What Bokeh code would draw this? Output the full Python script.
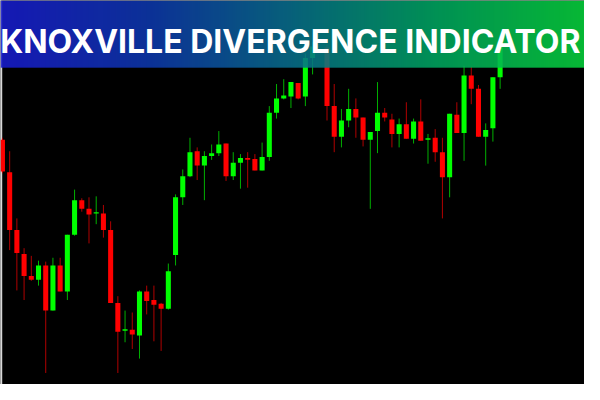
import numpy as np
from bokeh.plotting import figure
from bokeh.models import Range1d, ColumnDataSource, Label
from bokeh.embed import file_html
from bokeh.resources import INLINE

# ---- data (bar slot index, OHLC in chart points) ----
slots = list(range(0, 44)) + list(range(45, 70))
opens = [255, 221, 161, 136, 113, 109, 124, 77, 124, 97,
         156, 192, 183, 178, 178, 161, 85, 56, 57, 51,
         97, 88, 84, 79, 135, 195, 217, 243, 228, 238,
         241, 251, 217, 231, 236, 235, 223, 237, 283, 298,
         300, 314, 300, 340,
         351, 290, 258, 275, 287, 278, 255, 264, 283, 276,
         261, 271, 256, 274, 255, 257, 242, 216, 281, 262,
         322, 308, 258, 267, 320]
highs = [257, 243, 173, 142, 134, 129, 128, 132, 132, 156,
         203, 194, 195, 196, 187, 170, 92, 77, 75, 98,
         103, 103, 85, 126, 198, 224, 257, 247, 243, 250,
         264, 251, 242, 240, 242, 240, 252, 290, 313, 318,
         315, 314, 345, 357,
         354, 313, 287, 308, 298, 278, 263, 315, 288, 282,
         277, 294, 277, 297, 261, 266, 257, 282, 294, 332,
         331, 312, 272, 320, 360]
lows = [220, 140, 98, 88, 108, 103, 12, 77, 97, 88,
        155, 180, 147, 167, 153, 85, 12, 44, 37, 27,
        73, 45, 35, 78, 124, 187, 216, 213, 192, 234,
        238, 212, 213, 204, 205, 223, 223, 233, 277, 297,
        288, 297, 290, 323,
        275, 242, 247, 268, 257, 248, 183, 241, 274, 247,
        247, 256, 251, 254, 230, 232, 173, 195, 262, 233,
        292, 258, 228, 253, 308]
closes = [222, 161, 137, 113, 109, 124, 77, 124, 97, 156,
          192, 183, 177, 179, 161, 85, 55, 57, 52, 97,
          87, 83, 79, 118, 195, 217, 242, 228, 238, 241,
          250, 217, 231, 236, 234, 223, 237, 283, 298, 301,
          315, 298, 340, 352,
          290, 258, 275, 287, 278, 255, 263, 283, 278, 261,
          271, 256, 274, 254, 256, 242, 216, 282, 262, 322,
          308, 258, 265, 320, 357]
title_text = "KNOXVILLE DIVERGENCE INDICATOR"

# ---- derived columns ----
up = [c > o for o, c in zip(opens, closes)]
body_col = ["#00ff00" if u else "#ff0000" for u in up]
wick_col = ["#00b000" if u else "#b00000" for u in up]
tops = [max(o, c) for o, c in zip(opens, closes)]
bots = [min(o, c) for o, c in zip(opens, closes)]
tops = [t if t - b >= 1.5 else b + 1.5 for t, b in zip(tops, bots)]

src = ColumnDataSource(dict(x=slots, top=tops, bottom=bots, high=highs,
                            low=lows, body=body_col, wick=wick_col))

X0, X1 = -0.27, 80.7
p = figure(width=584, height=384, x_range=Range1d(X0, X1), y_range=Range1d(0, 400),
           output_backend="svg", toolbar_location=None,
           x_axis_location=None, y_axis_location=None,
           background_fill_color="#000000", border_fill_color="#000000",
           min_border=0)
p.grid.visible = False
p.outline_line_color = None

# left edge light line
p.segment(x0=[X0 + 0.1], y0=[0], x1=[X0 + 0.1], y1=[400], line_color="#d8d8d8", line_width=2)

p.segment(x0="x", y0="low", x1="x", y1="high", line_color="wick", line_width=1, source=src)
p.vbar(x="x", width=0.7, top="top", bottom="bottom", fill_color="body",
       line_color=None, source=src)

# gradient banner (semi-transparent)
stops = np.array([0.0, 0.25, 0.5, 0.75, 1.0])
rs = np.array([24, 14, 8, 0, 8])
gs = np.array([28, 55, 110, 165, 208])
bs = np.array([205, 172, 138, 95, 60])
N = 300
t = np.linspace(0, 1, N)
r = np.interp(t, stops, rs).astype(np.uint32)
g = np.interp(t, stops, gs).astype(np.uint32)
b = np.interp(t, stops, bs).astype(np.uint32)
a = np.full(N, 225, dtype=np.uint32)
row = r | (g << 8) | (b << 16) | (a << 24)
img = np.vstack([row, row]).astype(np.uint32)
p.image_rgba(image=[img], x=X0, y=330, dw=X1 - X0, dh=70)

lab = Label(x=(X0 + X1) / 2 - 0.3, y=357, text=title_text, text_align="center",
            text_baseline="alphabetic", text_color="white", text_font="Inter",
            text_font_size="32px", text_font_style="bold")
p.add_layout(lab)

open("out.html", "w").write(file_html(p, INLINE))
